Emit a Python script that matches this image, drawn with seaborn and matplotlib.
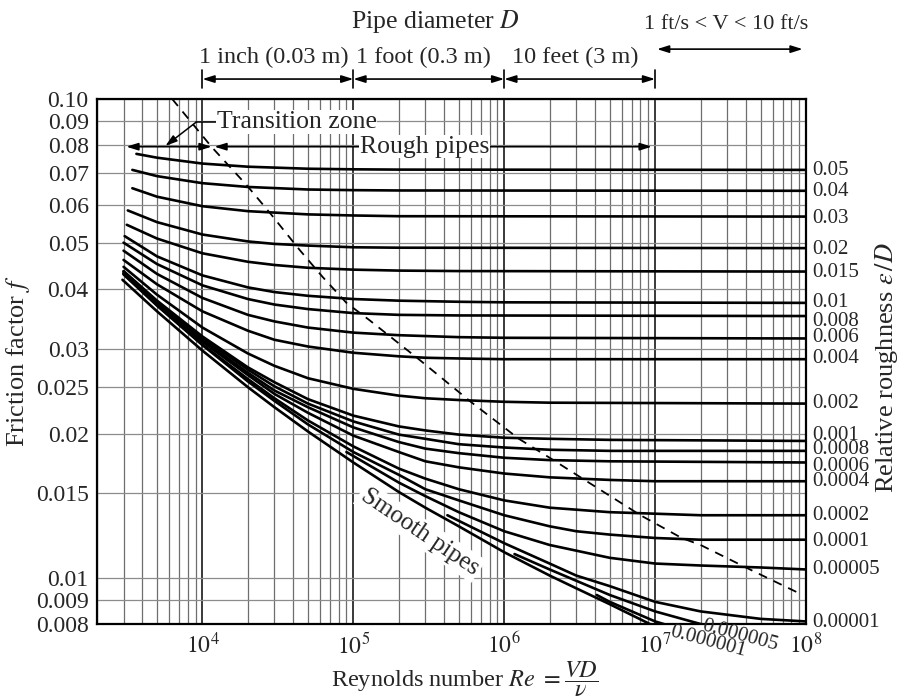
import matplotlib
matplotlib.use("Agg")
import matplotlib.pyplot as plt
import matplotlib.transforms as mtransforms
from matplotlib.ticker import FixedLocator, NullLocator
import pandas as pd
import seaborn as sns

# relative roughness eps/D of each curve, as printed at the right-hand side
ROUGHNESS = ["0.05", "0.04", "0.03", "0.02", "0.015", "0.01", "0.008", "0.006",
             "0.004", "0.002", "0.001", "0.0008", "0.0006", "0.0004", "0.0002",
             "0.0001", "0.00005", "0.00001"]
# height (friction factor) of each right-hand label
LABEL_F = [0.0708, 0.0640, 0.0563, 0.0484, 0.0433, 0.0375, 0.0343, 0.0318,
           0.0287, 0.0231, 0.0198, 0.0185, 0.0171, 0.0159, 0.0135, 0.0119,
           0.0104, 0.00805]

# Reynolds numbers and friction factors
RE_CURVES = [
    [3650, 5e3, 1e4, 2e4, 5e4, 1e5, 2e5, 1e8],
    [3430, 5e3, 1e4, 2e4, 5e4, 1e5, 2e5, 1e8],
    [3430, 5e3, 1e4, 2e4, 5e4, 1e5, 2e5, 1e8],
    [3200, 5e3, 1e4, 2e4, 3e4, 5e4, 1e5, 2e5, 1e8],
    [3150, 5e3, 1e4, 2e4, 3e4, 5e4, 1e5, 2e5, 5e5, 1e8],
    [3050, 5e3, 1e4, 2e4, 3e4, 5e4, 1e5, 2e5, 5e5, 1e6, 1e8],
    [3000, 5e3, 1e4, 2e4, 3e4, 5e4, 1e5, 2e5, 5e5, 1e8],
    [3000, 5e3, 1e4, 2e4, 3e4, 5e4, 1e5, 2e5, 5e5, 1e6, 1e8],
    [3000, 5e3, 1e4, 2e4, 3e4, 5e4, 1e5, 2e5, 3e5, 5e5, 1e6, 1e8],
    [3000, 5e3, 1e4, 2e4, 3e4, 5e4, 1e5, 2e5, 3e5, 5e5, 1e6, 2e6, 1e8],
    [3000, 5e3, 1e4, 2e4, 3e4, 5e4, 1e5, 2e5, 3e5, 5e5, 1e6, 2e6, 5e6, 1e8],
    [3000, 5e3, 1e4, 2e4, 3e4, 5e4, 1e5, 2e5, 3e5, 5e5, 1e6, 2e6, 5e6, 1e8],
    [3000, 5e3, 1e4, 2e4, 3e4, 5e4, 1e5, 2e5, 3e5, 5e5, 1e6, 2e6, 5e6, 1e8],
    [3000, 5e3, 1e4, 2e4, 3e4, 5e4, 1e5, 2e5, 3e5, 5e5, 1e6, 2e6, 5e6, 1e7, 1e8],
    [3000, 5e3, 1e4, 2e4, 3e4, 5e4, 1e5, 2e5, 3e5, 5e5, 1e6, 2e6, 5e6, 1e7, 2e7, 1e8],
    [3000, 5e3, 1e4, 2e4, 3e4, 5e4, 1e5, 2e5, 3e5, 5e5, 1e6, 2e6, 3e6, 5e6, 1e7, 2e7, 1e8],
    [9e4, 2e5, 3e5, 5e5, 1e6, 2e6, 5e6, 1e7, 2e7, 5e7, 1e8],
    [4.2e5, 1e6, 2e6, 3e6, 5e6, 1e7, 2e7, 5e7, 1e8],
]
F_CURVES = [
    [0.0768, 0.0754, 0.0733, 0.0722, 0.0715, 0.0713, 0.0712, 0.0711],
    [0.0711, 0.0690, 0.0667, 0.0655, 0.0647, 0.0645, 0.0644, 0.0643],
    [0.0651, 0.0625, 0.0597, 0.0583, 0.0574, 0.0571, 0.0569, 0.0568],
    [0.0585, 0.0553, 0.0521, 0.0504, 0.0498, 0.0494, 0.0490, 0.0489, 0.0488],
    [0.0546, 0.0511, 0.0476, 0.0457, 0.0450, 0.0444, 0.0440, 0.0438, 0.0437, 0.0436],
    [0.0517, 0.0469, 0.0428, 0.0404, 0.0395, 0.0388, 0.0382, 0.0379, 0.0377, 0.0376, 0.0375],
    [0.0501, 0.0452, 0.0408, 0.0382, 0.0372, 0.0364, 0.0357, 0.0354, 0.0353, 0.0352],
    [0.0482, 0.0431, 0.0384, 0.0354, 0.0343, 0.0333, 0.0325, 0.0321, 0.0318, 0.0317, 0.0316],
    [0.0461, 0.0410, 0.0360, 0.0328, 0.0314, 0.0304, 0.0295, 0.0290, 0.0288, 0.0287, 0.0286, 0.0286],
    [0.0446, 0.0390, 0.0333, 0.0294, 0.0277, 0.0261, 0.0248, 0.0240, 0.0237, 0.0235, 0.0233,
     0.0232, 0.0231],
    [0.0437, 0.0379, 0.0319, 0.0275, 0.0256, 0.0236, 0.0218, 0.0207, 0.0203, 0.0199, 0.0196,
     0.0195, 0.0194, 0.0193],
    [0.0436, 0.0377, 0.0317, 0.0272, 0.0251, 0.0231, 0.0212, 0.0199, 0.0195, 0.0190, 0.0187,
     0.0185, 0.0184, 0.0184],
    [0.0434, 0.0375, 0.0314, 0.0268, 0.0246, 0.0227, 0.0206, 0.0192, 0.0186, 0.0182, 0.0178,
     0.0176, 0.0175, 0.0174],
    [0.0432, 0.0373, 0.0311, 0.0265, 0.0242, 0.0221, 0.0198, 0.0183, 0.0175, 0.0170, 0.0165,
     0.0162, 0.0160, 0.0159, 0.0159],
    [0.0431, 0.0371, 0.0307, 0.0260, 0.0237, 0.0213, 0.0188, 0.0169, 0.0161, 0.0153, 0.0145,
     0.0140, 0.0137, 0.0136, 0.0135, 0.0135],
    [0.0430, 0.0370, 0.0306, 0.0257, 0.0234, 0.0209, 0.0183, 0.0164, 0.0153, 0.0145, 0.0135,
     0.0128, 0.0125, 0.0123, 0.0121, 0.0120, 0.0120],
    [0.0183, 0.0158, 0.0148, 0.0137, 0.0125, 0.0117, 0.0110, 0.0107, 0.0106, 0.0105, 0.0104],
    [0.0135, 0.0118, 0.0107, 0.0101, 0.0096, 0.0089, 0.0085, 0.0082, 0.0081],
]

# curves that leave through the bottom of the chart
RE_5E6 = [1.17e6, 2e6, 5e6, 1e7, 2e7, 3e7]
F_5E6 = [0.0112, 0.0104, 0.0092, 0.0085, 0.0080, 0.0078]
RE_1E6 = [4.1e6, 5e6, 1e7, 1.3e7]
F_1E6 = [0.0092, 0.0089, 0.0081, 0.0079]
RE_SMOOTH = [2950, 5e3, 1e4, 2e4, 3e4, 5e4, 1e5, 2e5, 3e5, 5e5, 1e6, 2e6, 3e6, 5e6, 1e7]
F_SMOOTH = [0.0419, 0.0360, 0.0298, 0.0250, 0.0227, 0.0202, 0.0174, 0.0151, 0.0140,
            0.0128, 0.0113, 0.0101, 0.0095, 0.0088, 0.0079]

# dashed boundary of the fully rough zone
RE_DASH = [6300, 11500, 19600, 28000, 44000, 62500, 90000, 128000, 275000,
           600000, 1.25e6, 2.0e6, 4.0e6, 8.0e6, 1.5e7, 2.0e7, 4.25e7, 9.5e7]
F_DASH = [0.100, 0.0794, 0.0661, 0.0578, 0.0484, 0.0425, 0.0375, 0.0345, 0.0285,
          0.0233, 0.0195, 0.0178, 0.0155, 0.0135, 0.0121, 0.0117, 0.0104, 0.0092]

Y_TICKS = [0.1, 0.09, 0.08, 0.07, 0.06, 0.05, 0.04, 0.03, 0.025, 0.02, 0.015,
           0.01, 0.009, 0.008]
Y_TICK_LABELS = ["0.10", "0.09", "0.08", "0.07", "0.06", "0.05", "0.04", "0.03",
                 "0.025", "0.02", "0.015", "0.01", "0.009", "0.008"]
X_TICKS = [1e4, 1e5, 1e6, 1e7, 1e8]
X_TICK_LABELS = [r"$10^{4}$", r"$10^{5}$", r"$10^{6}$", r"$10^{7}$", r"$10^{8}$"]

# long table of every curve
rows = []
all_re = RE_CURVES + [RE_5E6, RE_1E6, RE_SMOOTH]
all_f = F_CURVES + [F_5E6, F_1E6, F_SMOOTH]
for i, (res, fs) in enumerate(zip(all_re, all_f)):
    for r, f in zip(res, fs):
        rows.append({"curve": i, "Re": r, "f": f})
df = pd.DataFrame(rows)

sns.set_style("white")
plt.rcParams["font.family"] = ["Liberation Serif", "DejaVu Serif"]
plt.rcParams["mathtext.fontset"] = "stix"

fig = plt.figure(figsize=(8.99, 7.0), dpi=100)
ax = fig.add_axes([97 / 899, 1 - 624 / 700, 709 / 899, 525 / 700])
ax.set_xscale("log")
ax.set_yscale("log")

sns.lineplot(data=df, x="Re", y="f", units="curve", estimator=None,
             color="black", lw=1.9, ax=ax, zorder=3, legend=False)
sns.lineplot(x=RE_DASH, y=F_DASH, color="black", lw=1.3, linestyle=(0, (5, 4)),
             ax=ax, zorder=3)

ax.set_xlim(2000, 1e8)
ax.set_ylim(0.008, 0.1)

# grid: every 1-9 on x, only the labelled values on y
ax.xaxis.set_major_locator(FixedLocator(X_TICKS))
ax.set_xticklabels(X_TICK_LABELS)
ax.xaxis.set_minor_locator(FixedLocator(
    [m * 10 ** e for e in range(3, 8) for m in range(2, 10)]))
ax.yaxis.set_major_locator(FixedLocator(Y_TICKS))
ax.set_yticklabels(Y_TICK_LABELS)
ax.yaxis.set_minor_locator(NullLocator())
ax.grid(which="major", axis="x", color="#2a2a2a", lw=1.3)
ax.grid(which="minor", axis="x", color="#6e6e6e", lw=0.9)
ax.grid(which="major", axis="y", color="#8c8c8c", lw=0.9)
ax.tick_params(axis="both", which="both", length=0, labelsize=17)
ax.tick_params(axis="y", pad=6)
ax.tick_params(axis="x", pad=6)
for s in ax.spines.values():
    s.set_color("black")
    s.set_linewidth(1.6)

ax.set_ylabel(r"Friction factor $f$", fontsize=19, va="center")
ax.yaxis.set_label_coords(-0.112, 0.5)
ax.set_xlabel(r"Reynolds number $Re$ $=\dfrac{VD}{\nu}$", fontsize=17.5)
ax.xaxis.set_label_coords(0.519, -0.105)
ax.xaxis.label.set_va("center")
fig.text(887 / 899, 1 - 368 / 700, r"Relative roughness $\varepsilon\,/D$",
         rotation=90, ha="center", va="center", fontsize=19)

# roughness labels on the right
ytrans = mtransforms.blended_transform_factory(ax.transAxes, ax.transData)
for lab, yv in zip(ROUGHNESS, LABEL_F):
    ax.text(1.009, yv, lab, transform=ytrans, ha="left", va="center",
            fontsize=15, clip_on=False)

xtrans = mtransforms.blended_transform_factory(ax.transData, ax.transAxes)
ax.text(2.24e7, -0.034, "0.000001", transform=xtrans, ha="center", va="center",
        fontsize=15, rotation=-15)
ax.text(3.65e7, -0.022, "0.000005", transform=xtrans, ha="center", va="center",
        fontsize=15, rotation=-15)

# pipe diameter scale above the chart
arrow = dict(arrowstyle="<|-|>,head_length=0.7,head_width=0.22", color="black",
             lw=1.2, shrinkA=0, shrinkB=0)
ax.text(3.52e5, 1.147, r"Pipe diameter $D$", transform=xtrans, ha="center",
        va="center", fontsize=18.5)
for x0, x1, lab, xc in [(1e4, 1e5, "1 inch (0.03 m)", 2.96e4),
                        (1e5, 1e6, "1 foot (0.3 m)", 2.92e5),
                        (1e6, 1e7, "10 feet (3 m)", 2.94e6)]:
    ax.annotate("", xy=(x1, 1.038), xytext=(x0, 1.038), xycoords=xtrans,
                textcoords=xtrans, arrowprops=arrow, annotation_clip=False)
    ax.text(xc, 1.08, lab, transform=xtrans, ha="center", va="center",
            fontsize=17.5)
for xb in [1e4, 1e5, 1e6, 1e7]:
    ax.plot([xb, xb], [1.021, 1.055], color="black", lw=1.2,
            transform=xtrans, clip_on=False)
ax.annotate("", xy=(9.5e7, 1.095), xytext=(1.03e7, 1.095), xycoords=xtrans,
            textcoords=xtrans, arrowprops=arrow, annotation_clip=False)
ax.text(2.94e7, 1.141, "1 ft/s < V < 10 ft/s", transform=xtrans, ha="center",
        va="center", fontsize=16)

# zone annotations inside the chart
ax.annotate("", xy=(1.15e4, 0.0795), xytext=(3130, 0.0795), arrowprops=arrow,
            zorder=4)
ax.annotate("", xy=(9.5e6, 0.0795), xytext=(1.2e4, 0.0795), arrowprops=arrow,
            zorder=4)
ax.text(2.97e5, 0.0795, "Rough pipes", ha="center", va="center", fontsize=18.5,
        zorder=5, bbox=dict(facecolor="white", edgecolor="none", pad=0.5))
ax.plot([9.1e3, 1.25e4], [0.0895, 0.0895], color="black", lw=1.1, zorder=4)
ax.annotate("", xy=(5680, 0.0798), xytext=(9.1e3, 0.0895),
            arrowprops=dict(arrowstyle="-|>,head_length=0.7,head_width=0.22",
                            color="black", lw=1.1, shrinkA=0, shrinkB=0),
            zorder=4)
ax.text(1.24e4, 0.0895, "Transition zone", ha="left", va="center",
        fontsize=18.5, zorder=5,
        bbox=dict(facecolor="white", edgecolor="none", pad=0.5))
ax.text(2.75e5, 0.01246, "Smooth pipes", ha="center", va="center", fontsize=18,
        rotation=-34, rotation_mode="anchor", zorder=2.5,
        bbox=dict(facecolor="white", edgecolor="none", pad=2))

fig.savefig("out.png", dpi=100)
